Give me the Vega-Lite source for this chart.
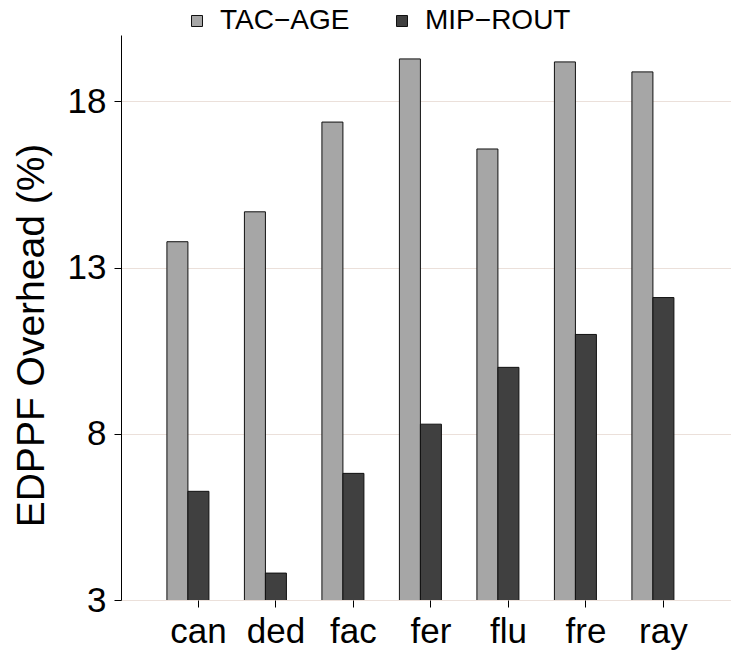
{
  "$schema": "https://vega.github.io/schema/vega-lite/v6.json",
  "autosize": "none",
  "width": 610,
  "height": 565,
  "padding": {"left": 121, "top": 35, "right": 0, "bottom": 56},
  "background": "white",
  "data": {
    "values": [
      {"bench": "can", "scheme": "TAC−AGE", "overhead": 13.78},
      {"bench": "can", "scheme": "MIP−ROUT", "overhead": 6.27},
      {"bench": "ded", "scheme": "TAC−AGE", "overhead": 14.68},
      {"bench": "ded", "scheme": "MIP−ROUT", "overhead": 3.81},
      {"bench": "fac", "scheme": "TAC−AGE", "overhead": 17.38},
      {"bench": "fac", "scheme": "MIP−ROUT", "overhead": 6.81},
      {"bench": "fer", "scheme": "TAC−AGE", "overhead": 19.28},
      {"bench": "fer", "scheme": "MIP−ROUT", "overhead": 8.29},
      {"bench": "flu", "scheme": "TAC−AGE", "overhead": 16.57},
      {"bench": "flu", "scheme": "MIP−ROUT", "overhead": 10.0},
      {"bench": "fre", "scheme": "TAC−AGE", "overhead": 19.19},
      {"bench": "fre", "scheme": "MIP−ROUT", "overhead": 10.99},
      {"bench": "ray", "scheme": "TAC−AGE", "overhead": 18.89},
      {"bench": "ray", "scheme": "MIP−ROUT", "overhead": 12.1}
    ]
  },
  "mark": {"type": "bar", "stroke": "#111111", "strokeWidth": 1, "clip": true},
  "encoding": {
    "x": {
      "field": "bench",
      "type": "nominal",
      "sort": ["can", "ded", "fac", "fer", "flu", "fre", "ray"],
      "scale": {"paddingInner": 0.187, "paddingOuter": 0.529, "align": 0.56},
      "axis": {
        "title": null,
        "labelAngle": 0,
        "domain": false,
        "grid": false,
        "tickSize": 7,
        "tickColor": "#000000",
        "labelFont": "Liberation Sans",
        "labelFontSize": 35,
        "labelColor": "#000000",
        "labelPadding": 7
      }
    },
    "xOffset": {
      "field": "scheme",
      "type": "nominal",
      "scale": {"domain": ["TAC−AGE", "MIP−ROUT", "_pad"], "paddingInner": 0, "paddingOuter": 0}
    },
    "y": {
      "field": "overhead",
      "type": "quantitative",
      "scale": {"domain": [3, 20], "nice": false, "zero": false},
      "axis": {
        "values": [3, 8, 13, 18],
        "title": "EDPPF Overhead (%)",
        "titleFont": "Liberation Sans",
        "titleFontSize": 39,
        "titleFontWeight": "normal",
        "titleColor": "#000000",
        "titleAngle": 270,
        "titleBaseline": "alphabetic",
        "titleAlign": "center",
        "titleX": -78,
        "titleY": 300,
        "domainColor": "#000000",
        "domainWidth": 1,
        "tickSize": 7,
        "tickColor": "#000000",
        "labelFont": "Liberation Sans",
        "labelFontSize": 35,
        "labelColor": "#000000",
        "labelPadding": 8,
        "grid": true,
        "gridColor": "#ebe0da",
        "gridWidth": 1.2
      }
    },
    "color": {
      "field": "scheme",
      "type": "nominal",
      "scale": {"domain": ["TAC−AGE", "MIP−ROUT"], "range": ["#a6a6a6", "#404040"]},
      "legend": {
        "title": null,
        "orient": "none",
        "direction": "horizontal",
        "legendX": 62,
        "legendY": -28,
        "symbolType": "square",
        "symbolSize": 121,
        "symbolStrokeColor": "#111111",
        "symbolStrokeWidth": 1,
        "labelFont": "Liberation Sans",
        "labelFontSize": 28,
        "labelColor": "#000000",
        "labelOffset": 9,
        "columnPadding": 38
      }
    }
  },
  "config": {"view": {"stroke": null}}
}
